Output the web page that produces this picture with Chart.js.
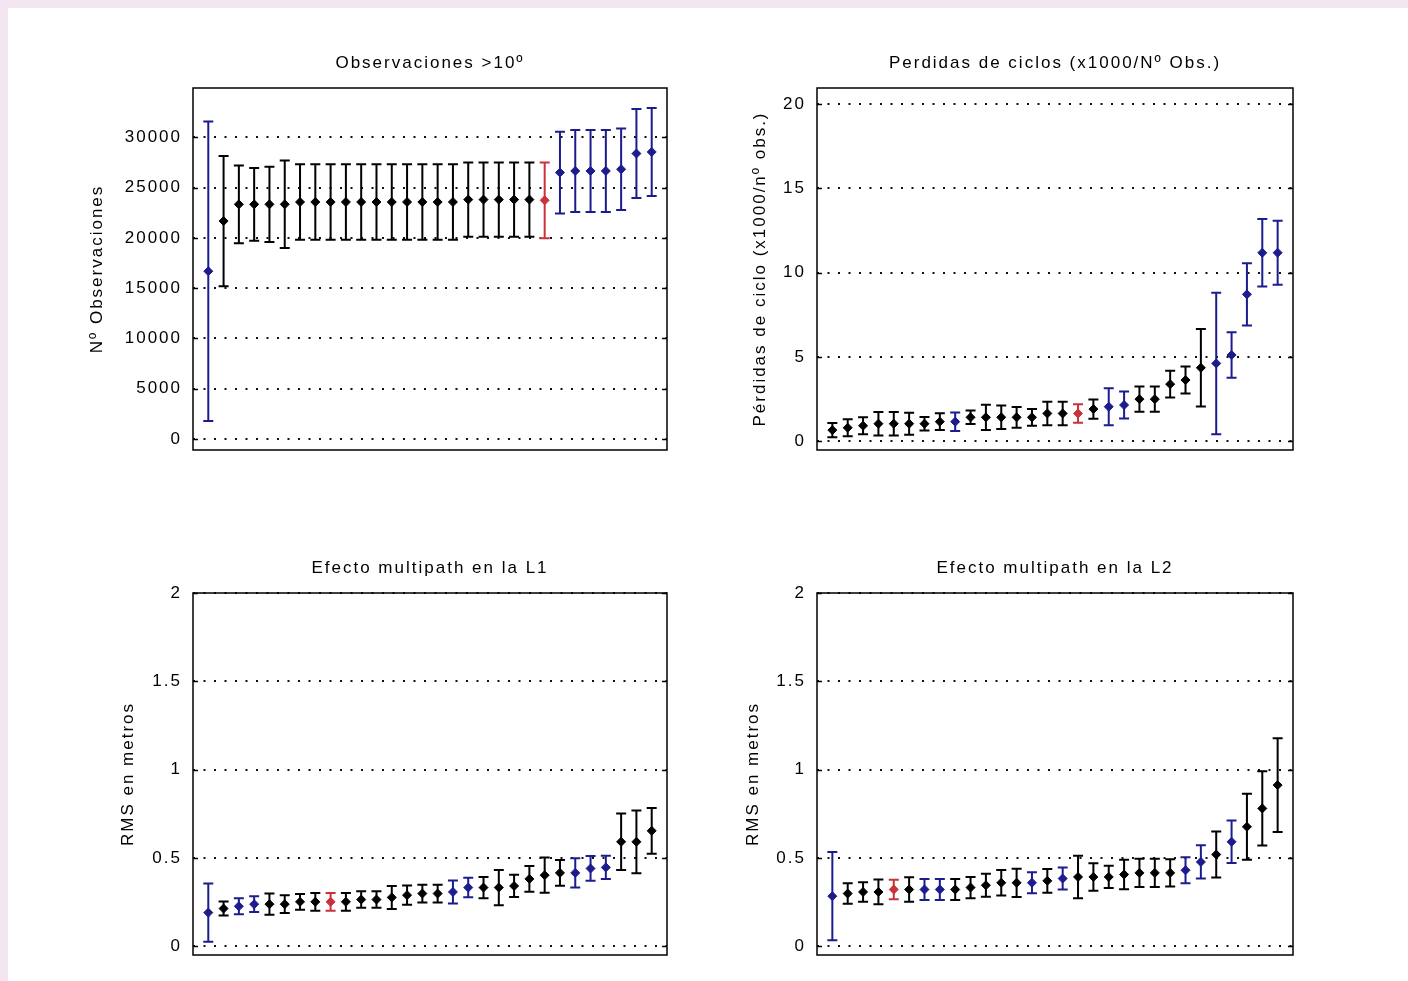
<!DOCTYPE html>
<html>
<head>
<meta charset="utf-8">
<script src="https://cdn.jsdelivr.net/npm/chart.js@4.4.1/dist/chart.umd.min.js"></script>
<style>
  body { margin: 0; width: 1408px; height: 981px; overflow: hidden; position: relative; background: #f3e6f0; }
  #hoja { position: absolute; left: 8px; top: 8px; right: 0; bottom: 0; background: #fff; }
  canvas { position: absolute; }
</style>
</head>
<body>
<div id="hoja"></div>
<canvas id="obs" width="704" height="480" style="left:0px;top:8px"></canvas>
<canvas id="ciclos" width="704" height="480" style="left:704px;top:8px"></canvas>
<canvas id="mpL1" width="704" height="493" style="left:0px;top:488px"></canvas>
<canvas id="mpL2" width="704" height="493" style="left:704px;top:488px"></canvas>
<script>
// estaciones 1..30 (ordenadas por valor en cada grafico)
// grupo: 0 = normal, 1 = azul, 2 = referencia (rojo)

const obsTicks = [0, 5000, 10000, 15000, 20000, 25000, 30000];
const obsMedia = [16680, 21670, 23330, 23330, 23330, 23330, 23560, 23560, 23560, 23560,
  23560, 23560, 23560, 23560, 23560, 23560, 23560, 23800, 23800, 23800,
  23800, 23800, 23730, 26490, 26650, 26650, 26650, 26820, 28380, 28540];
const obsError = [14900, 6480, 3870, 3610, 3740, 4350, 3760, 3760, 3760, 3760,
  3760, 3760, 3760, 3760, 3760, 3760, 3760, 3700, 3700, 3700,
  3700, 3700, 3770, 4060, 4080, 4080, 4080, 4060, 4420, 4370];
const obsGrupo = [1, 0, 0, 0, 0, 0, 0, 0, 0, 0, 0, 0, 0, 0, 0, 0, 0, 0, 0, 0,
  0, 0, 2, 1, 1, 1, 1, 1, 1, 1];

const ciclosTicks = [0, 5, 10, 15, 20];
const ciclosMedia = [0.65, 0.79, 0.91, 1.03, 1.03, 1.03, 1.03, 1.15, 1.15, 1.41,
  1.41, 1.41, 1.41, 1.41, 1.64, 1.64, 1.64, 1.90, 2.04, 2.14,
  2.49, 2.49, 3.38, 3.62, 4.35, 4.61, 5.11, 8.71, 11.18, 11.18];
const ciclosError = [0.43, 0.5, 0.5, 0.7, 0.7, 0.65, 0.4, 0.5, 0.55, 0.4,
  0.75, 0.7, 0.62, 0.5, 0.7, 0.7, 0.55, 0.57, 1.1, 0.8,
  0.75, 0.75, 0.8, 0.8, 2.3, 4.2, 1.35, 1.85, 2.0, 1.9];
const ciclosGrupo = [0, 0, 0, 0, 0, 0, 0, 0, 1, 0, 0, 0, 0, 0, 0, 0, 2, 0, 1, 1,
  0, 0, 0, 0, 0, 1, 1, 1, 1, 1];

const rmsTicks = [0, 0.5, 1, 1.5, 2];
const l1Media = [0.19, 0.213, 0.226, 0.238, 0.238, 0.238, 0.251, 0.251, 0.251, 0.251,
  0.264, 0.264, 0.276, 0.289, 0.298, 0.298, 0.307, 0.332, 0.332, 0.332,
  0.341, 0.381, 0.402, 0.415, 0.415, 0.44, 0.446, 0.591, 0.591, 0.653];
const l1Error = [0.165, 0.04, 0.045, 0.045, 0.06, 0.05, 0.045, 0.05, 0.05, 0.05,
  0.047, 0.047, 0.065, 0.055, 0.05, 0.05, 0.065, 0.055, 0.06, 0.1,
  0.063, 0.073, 0.1, 0.073, 0.083, 0.07, 0.066, 0.16, 0.178, 0.13];
const l1Grupo = [1, 0, 1, 1, 0, 0, 0, 0, 2, 0, 0, 0, 0, 0, 0, 0, 1, 1, 0, 0,
  0, 0, 0, 0, 1, 1, 1, 0, 0, 0];

const l2Media = [0.283, 0.298, 0.307, 0.307, 0.321, 0.321, 0.321, 0.321, 0.321, 0.332,
  0.345, 0.359, 0.359, 0.359, 0.37, 0.383, 0.392, 0.392, 0.392, 0.406,
  0.415, 0.415, 0.415, 0.43, 0.477, 0.519, 0.591, 0.676, 0.78, 0.912];
const l2Error = [0.25, 0.058, 0.055, 0.07, 0.055, 0.07, 0.06, 0.06, 0.06, 0.06,
  0.065, 0.072, 0.08, 0.06, 0.067, 0.062, 0.12, 0.078, 0.063, 0.083,
  0.08, 0.08, 0.077, 0.073, 0.094, 0.13, 0.12, 0.187, 0.21, 0.266];
const l2Grupo = [1, 0, 0, 0, 2, 0, 1, 1, 0, 0, 0, 0, 0, 1, 0, 1, 0, 0, 0, 0,
  0, 0, 0, 1, 1, 0, 1, 0, 0, 0];

const colores = ['#000000', '#1c1c8e', '#c8323a'];
const fuente = 'Liberation Sans, Arial, sans-serif';

// barras de error, caja, marcas y textos al estilo matlab
const estiloMatlab = {
  id: 'estiloMatlab',
  beforeDraw(chart) {
    chart.ctx.letterSpacing = '2px';
  },
  beforeDatasetsDraw(chart) {
    const ctx = chart.ctx;
    const y = chart.scales.y;
    const cfg = chart.config.options.panel;
    const meta = chart.getDatasetMeta(0);
    ctx.save();
    ctx.lineWidth = 2;
    cfg.media.forEach((m, i) => {
      const px = meta.data[i].x;
      const top = y.getPixelForValue(m + cfg.error[i]);
      const bot = y.getPixelForValue(m - cfg.error[i]);
      ctx.strokeStyle = colores[cfg.grupo[i]];
      ctx.beginPath();
      ctx.moveTo(px, top); ctx.lineTo(px, bot);
      ctx.moveTo(px - 5, top); ctx.lineTo(px + 5, top);
      ctx.moveTo(px - 5, bot); ctx.lineTo(px + 5, bot);
      ctx.stroke();
    });
    ctx.restore();
  },
  afterDraw(chart) {
    const ctx = chart.ctx;
    const a = chart.chartArea;
    const y = chart.scales.y;
    const cfg = chart.config.options.panel;
    ctx.save();
    ctx.strokeStyle = '#000';
    ctx.lineWidth = 1.5;
    ctx.strokeRect(a.left, a.top, a.right - a.left, a.bottom - a.top);
    y.ticks.forEach(t => {
      const py = Math.round(y.getPixelForValue(t.value)) + 0.5;
      ctx.beginPath();
      ctx.moveTo(a.left, py); ctx.lineTo(a.left + 5, py);
      ctx.moveTo(a.right, py); ctx.lineTo(a.right - 5, py);
      ctx.stroke();
    });
    ctx.fillStyle = '#000';
    ctx.font = '17px ' + fuente;
    ctx.letterSpacing = '2px';
    ctx.textAlign = 'center';
    ctx.textBaseline = 'middle';
    ctx.fillText(cfg.titulo, (a.left + a.right) / 2, a.top - 25);
    ctx.translate(a.left - cfg.sepEtiqueta, (a.top + a.bottom) / 2);
    ctx.rotate(-Math.PI / 2);
    ctx.fillText(cfg.etiqueta, 0, 0);
    ctx.restore();
  }
};

function crearPanel(id, panel) {
  const puntos = panel.media.map((m, i) => ({ x: i + 1, y: m }));
  const cols = panel.grupo.map(g => colores[g]);
  return new Chart(document.getElementById(id), {
    type: 'scatter',
    data: {
      datasets: [{
        data: puntos,
        pointStyle: 'rectRot',
        pointRadius: 4.5,
        pointBackgroundColor: cols,
        pointBorderColor: cols,
        pointBorderWidth: 1,
        showLine: false
      }]
    },
    options: {
      responsive: false,
      animation: false,
      panel: panel,
      layout: { padding: panel.padding },
      plugins: { legend: { display: false }, tooltip: { enabled: false } },
      scales: {
        x: { type: 'linear', min: 0, max: 31, display: false },
        y: {
          min: panel.min,
          max: panel.max,
          afterFit: s => { s.width = panel.anchoEje; },
          afterBuildTicks: s => { s.ticks = panel.ticks.map(v => ({ value: v })); },
          ticks: {
            padding: 11,
            color: '#000',
            font: { family: fuente, size: 17 },
            callback: v => String(v)
          },
          grid: { color: '#111', lineWidth: 2, drawTicks: false },
          border: { display: false, dash: [2, 8.5] }
        }
      }
    },
    plugins: [estiloMatlab]
  });
}

crearPanel('obs', {
  titulo: 'Observaciones >10º', etiqueta: 'Nº Observaciones',
  media: obsMedia, error: obsError, grupo: obsGrupo, ticks: obsTicks,
  min: -1100, max: 34900,
  anchoEje: 193, sepEtiqueta: 96,
  padding: { top: 80, right: 37, bottom: 38, left: 0 }
});
crearPanel('ciclos', {
  titulo: 'Perdidas de ciclos (x1000/Nº Obs.)', etiqueta: 'Pérdidas de ciclo (x1000/nº obs.)',
  media: ciclosMedia, error: ciclosError, grupo: ciclosGrupo, ticks: ciclosTicks,
  min: -0.53, max: 20.96,
  anchoEje: 113, sepEtiqueta: 57,
  padding: { top: 80, right: 115, bottom: 38, left: 0 }
});
crearPanel('mpL1', {
  titulo: 'Efecto multipath en la L1', etiqueta: 'RMS en metros',
  media: l1Media, error: l1Error, grupo: l1Grupo, ticks: rmsTicks,
  min: -0.05, max: 2,
  anchoEje: 193, sepEtiqueta: 65,
  padding: { top: 105, right: 37, bottom: 26, left: 0 }
});
crearPanel('mpL2', {
  titulo: 'Efecto multipath en la L2', etiqueta: 'RMS en metros',
  media: l2Media, error: l2Error, grupo: l2Grupo, ticks: rmsTicks,
  min: -0.05, max: 2,
  anchoEje: 113, sepEtiqueta: 64,
  padding: { top: 105, right: 115, bottom: 26, left: 0 }
});
</script>
</body>
</html>
